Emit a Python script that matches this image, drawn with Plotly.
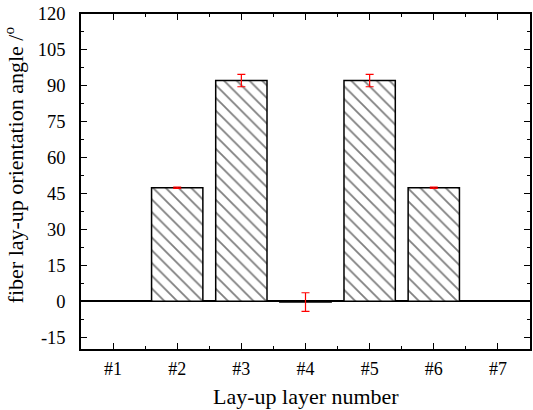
import plotly.graph_objects as go

layers = ["#1", "#2", "#3", "#4", "#5", "#6", "#7"]
positions = [1, 2, 3, 4, 5, 6, 7]
bar_pos = [2, 3, 4, 5, 6]
angles = [47.4, 92.2, -0.4, 92.2, 47.4]
errors = [0.3, 2.6, 3.9, 2.6, 0.3]
y_ticks = [-15, 0, 15, 30, 45, 60, 75, 90, 105, 120]
y_ticktext = ["-15", "0", "15", "30", "45", "60", "75", "90", "105", "120"]
x_title = "Lay-up layer number"
y_title = "fiber lay-up orientation angle /<sup>o</sup>"

font_family = "Liberation Serif"

fig = go.Figure()
fig.add_trace(go.Bar(
    x=bar_pos, y=angles, width=0.8,
    marker=dict(color="white",
                line=dict(color="black", width=1.5),
                pattern=dict(shape="\\", fgcolor="black", bgcolor="white",
                             size=9, solidity=0.2)),
    error_y=dict(type="data", array=errors, color="red", thickness=1.2, width=4),
    showlegend=False,
))

fig.update_layout(
    width=533, height=410,
    margin=dict(l=81, r=1, t=14, b=61),
    plot_bgcolor="white", paper_bgcolor="white",
    font=dict(family=font_family, size=18, color="black"),
    xaxis=dict(
        range=[0.5, 7.5], tickmode="array", tickvals=positions, ticktext=layers,
        ticks="inside", ticklen=6, tickwidth=1.2, tickcolor="black",
        showline=True, linecolor="black", linewidth=1.5, mirror="allticks",
        showgrid=False, zeroline=False, ticklabelstandoff=3,
        tickfont=dict(family=font_family, size=18, color="black"),
    ),
    yaxis=dict(
        range=[-20, 120], tickmode="array", tickvals=y_ticks, ticktext=y_ticktext,
        ticks="inside", ticklen=6, tickwidth=1.2, tickcolor="black",
        showline=True, linecolor="black", linewidth=1.5, mirror="allticks",
        showgrid=False, zeroline=True, zerolinecolor="black", zerolinewidth=1.5,
        ticklabelstandoff=10,
        tickfont=dict(family=font_family, size=18.5, color="black"),
    ),
    annotations=[
        dict(text=x_title, xref="paper", yref="paper", x=0.5, y=-0.142,
             xanchor="center", yanchor="middle", showarrow=False,
             font=dict(family=font_family, size=22, color="black")),
        dict(text=y_title, xref="paper", yref="paper", x=-0.150, y=0.55,
             xanchor="center", yanchor="middle", textangle=-90, showarrow=False,
             font=dict(family=font_family, size=22, color="black")),
    ],
)
fig.update_xaxes(minor=dict(tickmode="array", tickvals=[1.5, 2.5, 3.5, 4.5, 5.5, 6.5],
                            ticks="inside", ticklen=3, tickcolor="black", showgrid=False))
fig.update_yaxes(minor=dict(tickmode="array", tickvals=[-7.5, 7.5, 22.5, 37.5, 52.5, 67.5, 82.5, 97.5, 112.5],
                            ticks="inside", ticklen=3, tickcolor="black", showgrid=False))

fig.write_html("out.html")
